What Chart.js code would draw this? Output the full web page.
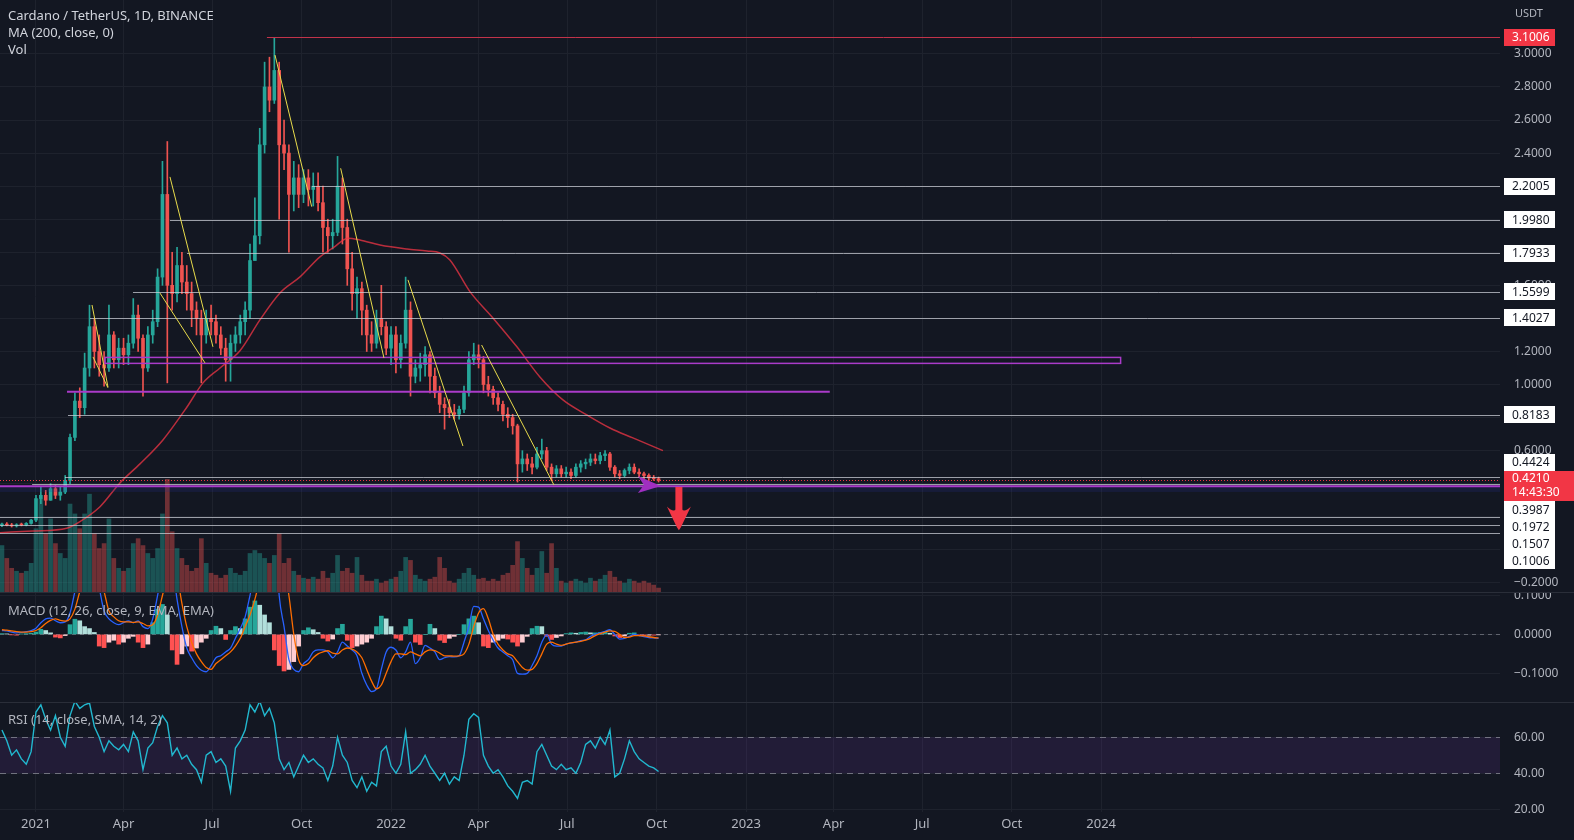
<!DOCTYPE html>
<html>
<head>
<meta charset="utf-8">
<script src="https://cdn.jsdelivr.net/npm/chart.js@4.4.1/dist/chart.umd.min.js"></script>
<style>
  html, body { margin: 0; padding: 0; background: #131722; }
  #wrap { position: relative; width: 1574px; height: 840px; overflow: hidden; font-family: "Noto Sans", "Open Sans", sans-serif; }
  canvas { position: absolute; left: 0; }
  #pricePane { top: 0; }
  #macdPane { top: 593px; }
  #rsiPane { top: 703px; }
  .sep { position: absolute; left: 0; width: 1574px; height: 1px; background: #2a2e39; }
  .legend { position: absolute; left: 8px; color: #d1d4dc; font-size: 13px; line-height: 17px; white-space: nowrap; }
  #unit { position: absolute; left: 1515px; top: 5px; color: #b2b5be; font-size: 11px; }
</style>
</head>
<body>
<div id="wrap">
  <canvas id="pricePane" width="1574" height="593"></canvas>
  <canvas id="macdPane" width="1574" height="110"></canvas>
  <canvas id="rsiPane" width="1574" height="137"></canvas>
  <div class="sep" style="top:592px"></div>
  <div class="sep" style="top:702px"></div>
  <div class="legend" style="top:7px">Cardano / TetherUS, 1D, BINANCE<br>MA (200, close, 0)<br>Vol</div>
  <div class="legend" style="top:602px;color:#b2b5be">MACD (12, 26, close, 9, EMA, EMA)</div>
  <div class="legend" style="top:711px;color:#b2b5be">RSI (14, close, SMA, 14, 2)</div>
  <div id="unit">USDT</div>
</div>
<script>
// days counted from 2021-01-01, one bar per 5 days
const barDays = [-35,-30,-25,-20,-15,-10,-5,0,5,10,
  15,20,25,30,35,40,45,50,55,60,
  65,70,75,80,85,90,95,100,105,110,
  115,120,125,130,135,140,145,150,155,160,
  165,170,175,180,185,190,195,200,205,210,
  215,220,225,230,235,240,245,250,255,260,
  265,270,275,280,285,290,295,300,305,310,
  315,320,325,330,335,340,345,350,355,360,
  365,370,375,380,385,390,395,400,405,410,
  415,420,425,430,435,440,445,450,455,460,
  465,470,475,480,485,490,495,500,505,510,
  515,520,525,530,535,540,545,550,555,560,
  565,570,575,580,585,590,595,600,605,610,
  615,620,625,630,635,640];

const opens = [0.150,0.155,0.150,0.145,0.152,0.150,0.160,0.180,0.310,0.330,
  0.300,0.370,0.330,0.350,0.420,0.680,0.900,0.860,1.100,1.350,
  1.200,1.120,1.100,1.300,1.150,1.220,1.180,1.250,1.420,1.280,
  1.100,1.300,1.380,1.650,2.150,1.600,1.550,1.720,1.620,1.550,
  1.450,1.400,1.300,1.400,1.380,1.300,1.220,1.150,1.250,1.300,
  1.380,1.450,1.750,1.900,2.450,2.800,2.720,2.900,2.450,2.400,
  2.150,2.250,2.150,2.250,2.180,2.200,2.100,1.950,1.900,1.920,
  2.200,1.950,1.700,1.550,1.580,1.450,1.300,1.250,1.400,1.350,
  1.220,1.300,1.150,1.250,1.450,1.050,1.100,1.120,1.180,1.050,
  0.950,0.880,0.860,0.830,0.820,0.850,0.950,1.150,1.180,1.150,
  1.000,0.970,0.920,0.880,0.820,0.800,0.750,0.520,0.550,0.520,
  0.500,0.580,0.600,0.500,0.460,0.490,0.460,0.470,0.450,0.500,
  0.520,0.530,0.550,0.540,0.570,0.580,0.500,0.460,0.450,0.480,
  0.500,0.470,0.460,0.450,0.435,0.430];

const highs = [0.162,0.165,0.160,0.158,0.162,0.165,0.185,0.330,0.380,0.360,
  0.400,0.390,0.380,0.450,0.700,0.950,0.980,1.190,1.480,1.400,
  1.300,1.200,1.480,1.320,1.280,1.280,1.300,1.520,1.480,1.300,
  1.350,1.450,1.700,2.350,2.470,1.800,1.830,1.800,1.720,1.620,
  1.500,1.450,1.450,1.480,1.420,1.350,1.280,1.300,1.350,1.420,
  1.500,1.850,2.130,2.550,2.950,2.980,3.100,2.950,2.600,2.450,
  2.350,2.330,2.300,2.300,2.280,2.280,2.200,2.000,2.000,2.380,
  2.250,2.000,1.800,1.650,1.620,1.480,1.380,1.450,1.600,1.380,
  1.350,1.350,1.300,1.650,1.500,1.150,1.190,1.230,1.200,1.100,
  0.990,0.920,0.910,0.880,0.870,0.990,1.200,1.250,1.240,1.170,
  1.050,0.990,0.950,0.900,0.860,0.820,0.760,0.600,0.580,0.560,
  0.620,0.670,0.620,0.520,0.510,0.510,0.500,0.490,0.520,0.540,
  0.550,0.580,0.580,0.590,0.600,0.590,0.510,0.480,0.490,0.520,
  0.520,0.490,0.470,0.460,0.450,0.440];

const lows = [0.140,0.145,0.138,0.138,0.145,0.145,0.155,0.170,0.280,0.270,
  0.300,0.310,0.300,0.340,0.400,0.660,0.800,0.820,1.050,1.100,
  1.050,0.990,1.080,1.100,1.100,1.120,1.120,1.220,1.200,0.930,
  1.080,1.250,1.350,1.600,1.010,1.450,1.500,1.550,1.450,1.350,
  1.300,1.010,1.250,1.300,1.250,1.180,1.020,1.020,1.200,1.250,
  1.300,1.400,1.750,1.850,2.400,2.650,2.700,2.000,2.300,1.800,
  2.050,2.070,2.100,2.080,2.080,2.050,1.800,1.800,1.820,1.900,
  1.850,1.600,1.450,1.400,1.300,1.200,1.200,1.220,1.300,1.180,
  1.120,1.070,1.100,1.220,0.930,1.010,1.020,1.050,0.950,0.920,
  0.830,0.730,0.800,0.790,0.790,0.830,0.930,1.120,1.100,0.950,
  0.930,0.880,0.840,0.780,0.740,0.700,0.410,0.470,0.480,0.460,
  0.490,0.550,0.480,0.420,0.440,0.440,0.440,0.430,0.440,0.470,
  0.490,0.510,0.520,0.520,0.540,0.480,0.440,0.430,0.440,0.460,
  0.460,0.440,0.430,0.420,0.420,0.410];

const closes = [0.155,0.150,0.145,0.152,0.150,0.160,0.180,0.310,0.330,0.300,
  0.370,0.330,0.350,0.420,0.680,0.900,0.860,1.100,1.350,1.200,
  1.120,1.100,1.300,1.150,1.220,1.180,1.250,1.420,1.280,1.100,
  1.300,1.380,1.650,2.150,1.600,1.550,1.720,1.620,1.550,1.450,
  1.400,1.300,1.400,1.380,1.300,1.220,1.150,1.250,1.300,1.380,
  1.450,1.750,1.900,2.450,2.800,2.720,2.900,2.450,2.400,2.150,
  2.250,2.150,2.250,2.180,2.200,2.100,1.950,1.900,1.920,2.200,
  1.950,1.700,1.550,1.580,1.450,1.300,1.250,1.400,1.350,1.220,
  1.300,1.150,1.250,1.450,1.050,1.100,1.120,1.180,1.050,0.950,
  0.880,0.860,0.830,0.820,0.850,0.950,1.150,1.180,1.150,1.000,
  0.970,0.920,0.880,0.820,0.800,0.750,0.520,0.550,0.520,0.500,
  0.580,0.600,0.500,0.460,0.490,0.460,0.470,0.450,0.500,0.520,
  0.530,0.550,0.540,0.570,0.580,0.500,0.460,0.450,0.480,0.500,
  0.470,0.460,0.450,0.435,0.430,0.421];

// volume in millions of ADA
const volumes = [480,350,250,220,200,220,300,650,950,600,
  750,500,400,350,900,800,650,800,1000,600,
  450,500,750,350,250,220,250,500,550,480,
  400,350,450,800,1150,620,450,350,280,220,
  250,550,300,200,180,150,180,250,200,180,
  220,400,430,400,350,300,380,600,300,350,
  220,180,150,140,160,140,220,150,200,380,
  220,250,200,360,180,120,120,140,100,120,
  140,160,220,360,330,180,140,120,140,160,
  360,250,120,100,140,200,250,180,140,150,
  120,140,120,180,200,280,520,350,250,180,
  250,420,200,500,250,120,100,120,140,120,
  100,150,120,140,180,220,160,120,100,140,
  120,100,120,100,80,50];

const maDays = [-37,-3,31.6,45.2,65.8,86.3,106.9,130.5,155.2,171.7,189.2,209.7,230.2,250.8,271.4,291.9,
  305.3,320.7,333,353.6,381.3,401.9,415.3,425.5,446.1,469.7,494.4,518,541.7,566.3,590,613.6,644.5];
const maValues = [0.104,0.114,0.131,0.171,0.261,0.405,0.520,0.665,0.864,1.010,1.100,1.204,1.391,1.554,1.651,1.772,
  1.826,1.885,1.874,1.844,1.820,1.808,1.796,1.754,1.562,1.403,1.228,1.046,0.907,0.816,0.737,0.677,0.600];

const macdLine = [0.010,0.009,0.006,0.004,0.005,0.007,0.010,0.016,0.030,0.040,
  0.042,0.035,0.030,0.032,0.055,0.110,0.160,0.190,0.200,0.180,
  0.120,0.060,0.040,0.030,0.025,0.030,0.035,0.030,0.035,0.020,
  0.015,0.040,0.100,0.170,0.220,0.180,0.090,0.020,-0.035,-0.060,
  -0.080,-0.092,-0.096,-0.080,-0.060,-0.055,-0.045,-0.035,-0.010,0.015,
  0.045,0.100,0.160,0.220,0.280,0.320,0.300,0.100,0.020,-0.065,
  -0.090,-0.096,-0.075,-0.065,-0.045,-0.040,-0.040,-0.045,-0.060,-0.045,
  -0.020,-0.030,-0.040,-0.055,-0.100,-0.130,-0.147,-0.140,-0.090,-0.045,
  -0.033,-0.040,-0.060,-0.045,-0.020,-0.075,-0.060,-0.028,-0.035,-0.045,
  -0.065,-0.060,-0.057,-0.058,-0.055,-0.020,0.020,0.072,0.070,0.040,
  0.010,-0.015,-0.035,-0.045,-0.055,-0.065,-0.100,-0.102,-0.100,-0.080,
  -0.055,-0.020,-0.001,-0.025,-0.030,-0.030,-0.025,-0.022,-0.020,-0.016,
  -0.014,-0.005,0.000,0.004,0.008,0.012,0.000,-0.012,-0.010,-0.005,
  0.000,-0.003,-0.006,-0.008,-0.009,-0.010];

const signalLine = [0.012,0.011,0.009,0.007,0.006,0.006,0.007,0.010,0.017,0.028,
  0.036,0.040,0.036,0.034,0.040,0.065,0.110,0.150,0.180,0.190,
  0.150,0.110,0.060,0.045,0.035,0.032,0.032,0.031,0.032,0.028,
  0.022,0.025,0.050,0.100,0.150,0.180,0.150,0.080,0.020,-0.020,
  -0.050,-0.070,-0.085,-0.090,-0.075,-0.065,-0.055,-0.045,-0.030,-0.010,
  0.020,0.050,0.090,0.140,0.190,0.240,0.280,0.220,0.170,0.100,
  0.000,-0.065,-0.080,-0.075,-0.060,-0.050,-0.045,-0.042,-0.048,-0.050,
  -0.040,-0.035,-0.038,-0.045,-0.060,-0.090,-0.120,-0.140,-0.130,-0.100,
  -0.070,-0.050,-0.050,-0.052,-0.045,-0.050,-0.055,-0.045,-0.040,-0.042,
  -0.048,-0.055,-0.055,-0.056,-0.055,-0.050,-0.025,0.020,0.055,0.066,
  0.040,0.000,-0.025,-0.040,-0.050,-0.055,-0.070,-0.085,-0.092,-0.090,
  -0.075,-0.050,-0.025,-0.020,-0.025,-0.028,-0.025,-0.022,-0.020,-0.018,
  -0.015,-0.010,-0.003,0.002,0.006,0.009,0.008,0.000,-0.008,-0.007,
  -0.003,-0.003,-0.004,-0.006,-0.008,-0.009];

const macdHist = [0.002,0.001,-0.001,-0.002,0.001,0.002,0.003,0.006,0.013,0.010,
  0.004,-0.007,-0.009,-0.003,0.025,0.039,0.035,0.020,0.015,0.005,
  -0.030,-0.034,-0.020,-0.015,-0.025,-0.020,-0.010,-0.005,-0.020,-0.034,
  -0.025,0.030,0.065,0.077,0.050,-0.040,-0.077,-0.050,-0.030,-0.043,
  -0.035,-0.020,-0.010,0.010,0.021,0.015,-0.013,0.010,0.020,0.015,
  0.040,0.070,0.086,0.075,0.050,0.030,-0.040,-0.080,-0.094,-0.090,
  -0.070,-0.030,0.010,0.017,0.012,0.005,-0.010,-0.017,-0.012,0.015,
  0.026,-0.015,-0.034,-0.030,-0.025,-0.020,-0.010,0.020,0.047,0.040,
  0.020,-0.010,-0.015,0.020,0.039,-0.020,-0.026,0.000,0.026,0.015,
  -0.015,-0.021,-0.010,-0.005,0.000,0.025,0.040,0.047,0.030,-0.030,
  -0.034,-0.020,-0.015,-0.010,-0.012,-0.020,-0.030,-0.020,-0.005,0.015,
  0.021,0.020,-0.005,-0.013,-0.008,-0.004,0.002,0.004,0.003,0.005,
  0.006,0.004,0.004,0.005,0.006,0.003,-0.004,-0.008,-0.004,0.003,
  0.004,-0.002,-0.003,-0.002,-0.002,-0.001];

const rsiValues = [64,58,50,53,48,45,52,74,78,70,
  64,72,60,55,72,80,76,78,79,66,
  60,52,58,55,53,56,52,63,58,42,
  54,57,66,72,68,50,54,48,50,45,
  42,35,50,52,46,48,44,30,54,58,
  64,78,74,80,72,76,68,48,42,46,
  38,44,50,46,48,45,43,36,44,60,
  50,46,36,32,38,30,35,33,52,55,
  44,40,45,63,40,42,45,50,44,40,
  36,40,34,38,36,50,70,73,71,50,
  44,40,42,38,33,30,26,35,36,34,
  52,56,50,44,42,45,42,43,40,46,
  56,58,54,60,56,64,38,40,48,58,
  52,48,46,44,43,41];

const tickDays = [0, 90, 181, 273, 365, 455, 546, 638, 730, 820, 911, 1003, 1095];
const tickLabels = ["2021", "Apr", "Jul", "Oct", "2022", "Apr", "Jul", "Oct", "2023", "Apr", "Jul", "Oct", "2024"];
const priceTicks = [-0.2, 0, 0.2, 0.4, 0.6, 0.8, 1.0, 1.2, 1.4, 1.6, 1.8, 2.0, 2.2, 2.4, 2.6, 2.8, 3.0];
const macdTicks = [0.1, 0, -0.1];
const rsiTicks = [60, 40, 20];

// drawings on the chart: horizontal levels and where they start
const levelValues = [2.2005, 1.9980, 1.7933, 1.5599, 1.4027, 0.8183, 0.4424, 0.3987, 0.1972, 0.1507, 0.1006];
const levelFrom = [283.7, 137.7, 155.2, 99.7, 55.5, 32.9, 29.8, -4, -37, -37, -37];
const athLevel = 3.1006, athFrom = 237.4;
const lastPrice = 0.4210, lastTime = "14:43:30";
const supportLine = [0.957, 31.9, 816];        // value, from day, to day
const resistanceZone = [1.164, 1.128, 71, 1115]; // top, bottom, from day, to day
const lowerBand = [0.384, 0.350];
const trendLines = [
  [57.6, 1.481, 74.0, 0.985], [58.6, 1.167, 74.0, 0.980],
  [137.7, 2.256, 181.9, 1.228], [127.5, 1.553, 173.7, 1.131],
  [245.7, 2.993, 283.4, 2.076], [313.2, 2.308, 357.7, 1.161],
  [382.4, 1.633, 438.9, 0.628], [458.1, 1.239, 532.4, 0.393]
];
const purpleArrow = [[618.8, 0.447], [642.4, 0.386], [618.8, 0.344], [624.9, 0.393]];
const redArrow = { day: 660.9, top: 0.380, head: 0.262, tip: 0.118 };

const GRID = "#1e222d";
const TEXT = "#b2b5be";
const UP = "#26a69a", DOWN = "#ef5350";
const PURPLE = "#aa3bc9";
const FONT = '"Noto Sans", "Open Sans", sans-serif';
Chart.defaults.font.family = FONT;

const candleColors = barDays.map((d, i) => closes[i] >= opens[i] ? UP : DOWN);
const volColors = barDays.map((d, i) => closes[i] >= opens[i] ? "rgba(38,166,154,0.42)" : "rgba(239,83,80,0.42)");
const histColors = macdHist.map((v, i) => {
  const prev = i ? macdHist[i - 1] : 0;
  if (v >= 0) return v >= prev ? "#26a69a" : "#b2dfdb";
  return v <= prev ? "#ff5252" : "#ffcdd2";
});

function xScale(showLabels) {
  return {
    type: "linear", min: -37, max: 1505, offset: false,
    grid: { color: GRID, drawTicks: false, offset: false },
    border: { display: false },
    ticks: {
      display: showLabels, color: TEXT, font: { size: 13 }, padding: 4, maxRotation: 0, autoSkip: false,
      callback: v => tickLabels[tickDays.indexOf(v)] ?? ""
    },
    afterBuildTicks: s => { s.ticks = tickDays.map(v => ({ value: v })); },
    afterFit: s => { s.height = showLabels ? 28 : 0; s.paddingLeft = 0; s.paddingRight = 0; }
  };
}

function yScale(min, max, ticks, digits) {
  return {
    position: "right", min, max,
    grid: { color: GRID, drawTicks: false },
    border: { display: false },
    ticks: {
      color: TEXT, font: { size: 12 }, padding: 14, autoSkip: false,
      callback: v => v.toFixed(digits).replace("-", "\u2212")
    },
    afterBuildTicks: s => { s.ticks = ticks.map(v => ({ value: v })); },
    afterFit: s => { s.width = 74; s.paddingTop = 0; s.paddingBottom = 0; }
  };
}

const baseOptions = () => ({
  responsive: false, animation: false, devicePixelRatio: 1, events: [],
  layout: { padding: 0 },
  plugins: { legend: { display: false }, tooltip: { enabled: false } }
});

function hline(ctx, yy, x1, x2) {
  const p = Math.round(yy) + 0.5;
  ctx.beginPath(); ctx.moveTo(x1, p); ctx.lineTo(x2, p); ctx.stroke();
}

function priceBox(ctx, left, cy, text, bg, fg) {
  ctx.fillStyle = bg;
  ctx.fillRect(left, Math.round(cy - 8.5), 51, 17);
  ctx.fillStyle = fg;
  ctx.fillText(text, left + 8, Math.round(cy) + 0.5);
}

const priceDrawings = {
  id: "priceDrawings",
  afterDatasetsDraw(chart) {
    const { ctx, chartArea: a, scales: { x, y } } = chart;
    ctx.save();
    ctx.beginPath(); ctx.rect(a.left, a.top, a.right - a.left, a.bottom - a.top); ctx.clip();

    // lower band
    const bt = y.getPixelForValue(lowerBand[0]), bb = y.getPixelForValue(lowerBand[1]);
    ctx.fillStyle = "rgba(40,50,150,0.2)";
    ctx.fillRect(a.left, bt, a.right - a.left, bb - bt);
    ctx.strokeStyle = PURPLE; ctx.lineWidth = 2;
    ctx.beginPath(); ctx.moveTo(a.left, bt); ctx.lineTo(a.right, bt); ctx.stroke();

    // horizontal levels
    ctx.lineWidth = 1;
    ctx.strokeStyle = "rgba(209,212,220,0.72)";
    levelValues.forEach((v, i) => hline(ctx, y.getPixelForValue(v), x.getPixelForValue(levelFrom[i]), a.right));
    ctx.strokeStyle = "#c2334a";
    hline(ctx, y.getPixelForValue(athLevel), x.getPixelForValue(athFrom), a.right);

    // support line and resistance zone
    ctx.strokeStyle = PURPLE; ctx.lineWidth = 2;
    ctx.beginPath();
    ctx.moveTo(x.getPixelForValue(supportLine[1]), y.getPixelForValue(supportLine[0]));
    ctx.lineTo(x.getPixelForValue(supportLine[2]), y.getPixelForValue(supportLine[0]));
    ctx.stroke();
    ctx.lineWidth = 1.5;
    const zx1 = x.getPixelForValue(resistanceZone[2]), zx2 = x.getPixelForValue(resistanceZone[3]);
    const zy1 = y.getPixelForValue(resistanceZone[0]), zy2 = y.getPixelForValue(resistanceZone[1]);
    ctx.strokeRect(zx1, zy1, zx2 - zx1, zy2 - zy1);

    // current price dotted line
    ctx.strokeStyle = "#f23645"; ctx.lineWidth = 1; ctx.setLineDash([1, 2]);
    hline(ctx, y.getPixelForValue(lastPrice), a.left, a.right);
    ctx.setLineDash([]);

    // trend lines
    ctx.strokeStyle = "#e9dc4c"; ctx.lineWidth = 1;
    trendLines.forEach(t => {
      ctx.beginPath();
      ctx.moveTo(x.getPixelForValue(t[0]), y.getPixelForValue(t[1]));
      ctx.lineTo(x.getPixelForValue(t[2]), y.getPixelForValue(t[3]));
      ctx.stroke();
    });

    // purple arrow
    ctx.fillStyle = "#a02fc0";
    ctx.beginPath();
    purpleArrow.forEach((p, i) => {
      const px = x.getPixelForValue(p[0]), py = y.getPixelForValue(p[1]);
      i ? ctx.lineTo(px, py) : ctx.moveTo(px, py);
    });
    ctx.closePath(); ctx.fill();

    // red down arrow: shaft and head
    const rx = x.getPixelForValue(redArrow.day);
    const ry1 = y.getPixelForValue(redArrow.top), ry2 = y.getPixelForValue(redArrow.head), ry3 = y.getPixelForValue(redArrow.tip);
    ctx.fillStyle = "#f23645";
    ctx.fillRect(rx - 3.5, ry1, 7, ry2 - ry1 + 4);
    ctx.beginPath();
    ctx.moveTo(rx - 12, ry2);
    ctx.quadraticCurveTo(rx - 6, ry2 + 6, rx - 3, ry2 + 3);
    ctx.lineTo(rx + 3, ry2 + 3);
    ctx.quadraticCurveTo(rx + 6, ry2 + 6, rx + 12, ry2);
    ctx.lineTo(rx + 2, ry3 - 3);
    ctx.lineTo(rx, ry3);
    ctx.lineTo(rx - 2, ry3 - 3);
    ctx.closePath(); ctx.fill();
    ctx.restore();
  },
  afterDraw(chart) {
    const { ctx, chartArea: a, scales: { y } } = chart;
    const left = a.right + 4;
    ctx.save();
    ctx.font = "12px " + FONT;
    ctx.textBaseline = "middle";
    priceBox(ctx, left, y.getPixelForValue(athLevel), athLevel.toFixed(4), "#f23645", "#ffffff");

    const cy = y.getPixelForValue(lastPrice);
    const curTop = Math.round(cy - 9.5), curBot = curTop + 30;
    ctx.fillStyle = "#f23645";
    ctx.fillRect(left, curTop, chart.width - left, 30);
    ctx.fillStyle = "#ffffff";
    ctx.fillText(lastPrice.toFixed(4), left + 8, curTop + 8);
    ctx.fillText(lastTime, left + 8, curTop + 22);

    let limit = curTop - 0.5;
    levelValues.filter(v => v > lastPrice).sort((p, q) => p - q).forEach(v => {
      const c = Math.min(y.getPixelForValue(v), limit - 8.5);
      priceBox(ctx, left, c, v.toFixed(4), "#ffffff", "#131722");
      limit = c - 8.5;
    });
    limit = curBot;
    levelValues.filter(v => v < lastPrice).sort((p, q) => q - p).forEach(v => {
      const c = Math.max(y.getPixelForValue(v), limit + 8.5);
      priceBox(ctx, left, c, v.toFixed(4), "#ffffff", "#131722");
      limit = c + 8.5;
    });
    ctx.restore();
  }
};

const macdZero = {
  id: "macdZero",
  beforeDatasetsDraw(chart) {
    const { ctx, chartArea: a, scales: { y } } = chart;
    ctx.save();
    ctx.strokeStyle = "rgba(178,181,190,0.45)"; ctx.lineWidth = 1; ctx.setLineDash([4, 4]);
    hline(ctx, y.getPixelForValue(0), a.left, a.right);
    ctx.restore();
  }
};

const rsiBand = {
  id: "rsiBand",
  beforeDatasetsDraw(chart) {
    const { ctx, chartArea: a, scales: { y } } = chart;
    const y60 = y.getPixelForValue(60), y40 = y.getPixelForValue(40);
    ctx.save();
    ctx.fillStyle = "rgba(120,60,180,0.15)";
    ctx.fillRect(a.left, y60, a.right - a.left, y40 - y60);
    ctx.strokeStyle = "rgba(178,181,190,0.55)"; ctx.lineWidth = 1; ctx.setLineDash([6, 5]);
    hline(ctx, y60, a.left, a.right);
    hline(ctx, y40, a.left, a.right);
    ctx.restore();
  }
};

const el = id => document.getElementById(id);

new Chart(el("pricePane"), {
  type: "bar",
  data: {
    datasets: [
      {
        type: "line", yAxisID: "y", order: 1,
        data: maDays.map((d, i) => ({ x: d, y: maValues[i] })),
        borderColor: "rgba(242,54,69,0.75)", borderWidth: 1.5, pointRadius: 0, cubicInterpolationMode: "monotone"
      },
      {
        yAxisID: "y", order: 2, grouped: false, barThickness: 3, minBarLength: 1,
        data: barDays.map((d, i) => ({ x: d, y: [opens[i], closes[i]] })),
        backgroundColor: candleColors
      },
      {
        yAxisID: "y", order: 3, grouped: false, barThickness: 1,
        data: barDays.map((d, i) => ({ x: d, y: [lows[i], highs[i]] })),
        backgroundColor: candleColors
      },
      {
        yAxisID: "yv", order: 4, grouped: false, barThickness: 4,
        data: barDays.map((d, i) => ({ x: d, y: volumes[i] })),
        backgroundColor: volColors
      }
    ]
  },
  options: {
    ...baseOptions(),
    scales: {
      x: xScale(false),
      y: yScale(-0.261, 3.326, priceTicks, 4),
      yv: { display: false, min: 0, max: 6000 }
    }
  },
  plugins: [priceDrawings]
});

new Chart(el("macdPane"), {
  type: "bar",
  data: {
    datasets: [
      {
        type: "line", order: 1,
        data: barDays.map((d, i) => ({ x: d, y: signalLine[i] })),
        borderColor: "#ff6d00", borderWidth: 1.3, pointRadius: 0, cubicInterpolationMode: "monotone"
      },
      {
        type: "line", order: 2,
        data: barDays.map((d, i) => ({ x: d, y: macdLine[i] })),
        borderColor: "#2962ff", borderWidth: 1.3, pointRadius: 0, cubicInterpolationMode: "monotone"
      },
      {
        order: 3, grouped: false, barThickness: 4,
        data: barDays.map((d, i) => ({ x: d, y: macdHist[i] })),
        backgroundColor: histColors
      }
    ]
  },
  options: {
    ...baseOptions(),
    scales: { x: xScale(false), y: yScale(-0.1763, 0.1064, macdTicks, 4) }
  },
  plugins: [macdZero]
});

new Chart(el("rsiPane"), {
  type: "line",
  data: {
    datasets: [{
      data: barDays.map((d, i) => ({ x: d, y: rsiValues[i] })),
      borderColor: "#22b8cf", borderWidth: 1.4, pointRadius: 0, tension: 0
    }]
  },
  options: {
    ...baseOptions(),
    scales: { x: xScale(true), y: yScale(18.5, 79, rsiTicks, 2) }
  },
  plugins: [rsiBand]
});
</script>
</body>
</html>
